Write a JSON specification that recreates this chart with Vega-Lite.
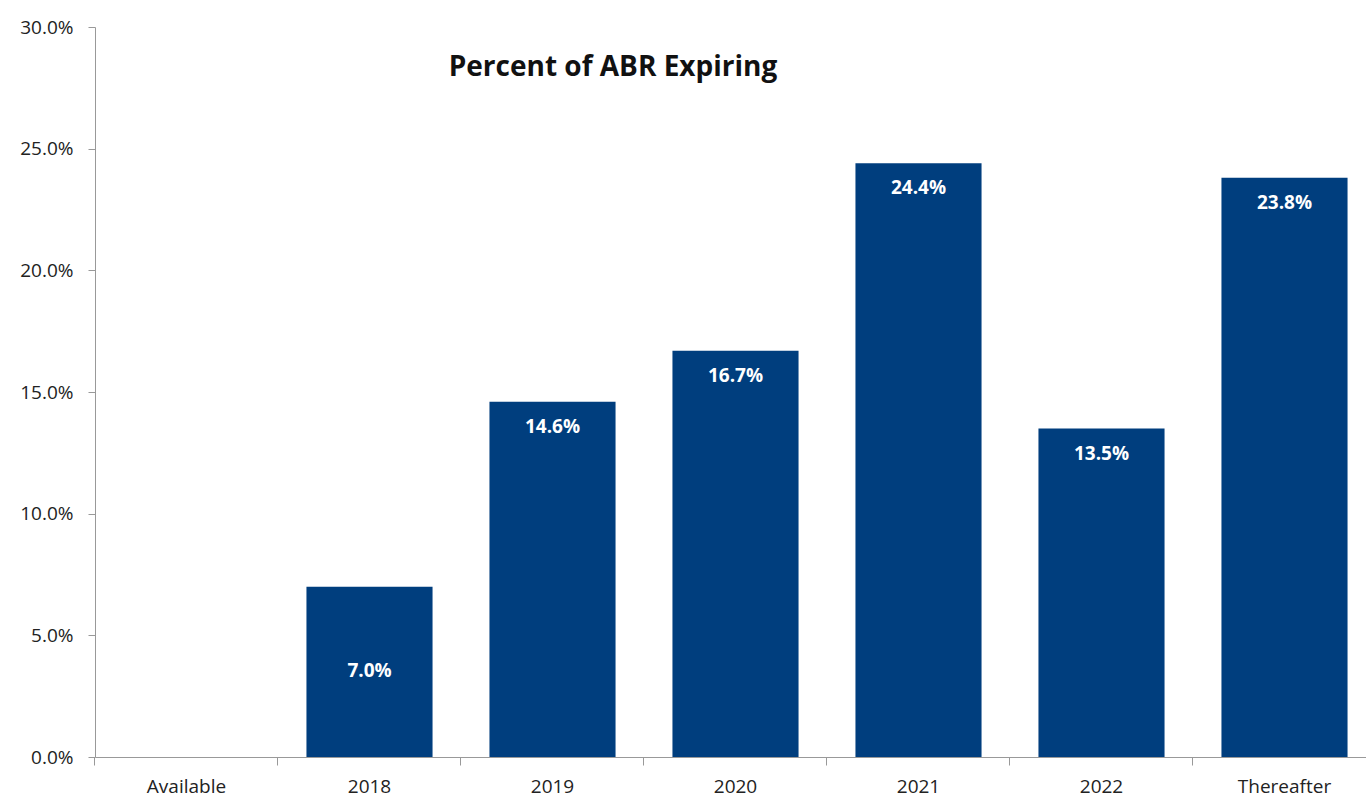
{
  "$schema": "https://vega.github.io/schema/vega-lite/v6.json",
  "autosize": {"type": "none"},
  "width": 1281,
  "height": 730,
  "padding": {"left": 95, "top": 27, "right": -10, "bottom": 41},
  "background": "white",
  "config": {"view": {"stroke": null}, "font": "Open Sans"},
  "title": {
    "text": "Percent of ABR Expiring",
    "anchor": "start",
    "dx": 429,
    "dy": 86,
    "offset": 0,
    "baseline": "alphabetic",
    "font": "Open Sans",
    "fontSize": 28,
    "fontWeight": "bold",
    "color": "#111111"
  },
  "data": {
    "values": [
      {"period": "Available", "pct": null},
      {"period": "2018", "pct": 0.070},
      {"period": "2019", "pct": 0.146},
      {"period": "2020", "pct": 0.167},
      {"period": "2021", "pct": 0.244},
      {"period": "2022", "pct": 0.135},
      {"period": "Thereafter", "pct": 0.238}
    ]
  },
  "encoding": {
    "x": {
      "field": "period",
      "type": "nominal",
      "sort": null,
      "scale": {"domain": ["Available", "2018", "2019", "2020", "2021", "2022", "Thereafter"], "paddingInner": 0.311, "paddingOuter": 0.1555},
      "axis": {
        "title": null,
        "labelAngle": 0,
        "bandPosition": -0.2257,
        "domainColor": "#999999",
        "tickColor": "#999999",
        "tickSize": 8,
        "labelPadding": 12,
        "labelFontSize": 19,
        "labelColor": "#222222",
        "labelFont": "Open Sans"
      }
    },
    "y": {
      "field": "pct",
      "type": "quantitative",
      "scale": {"domain": [0, 0.3], "nice": false},
      "axis": {
        "title": null,
        "format": ".1%",
        "values": [0, 0.05, 0.1, 0.15, 0.2, 0.25, 0.3],
        "grid": false,
        "domainColor": "#999999",
        "tickColor": "#999999",
        "tickSize": 7,
        "labelPadding": 15,
        "labelFontSize": 19,
        "labelColor": "#222222",
        "labelFont": "Open Sans"
      }
    }
  },
  "layer": [
    {"mark": {"type": "bar", "color": "#003E7E"}},
    {
      "transform": [{"filter": "datum.pct != null && datum.period != '2018'"}],
      "mark": {"type": "text", "color": "white", "fontWeight": "bold", "fontSize": 19, "baseline": "middle", "dy": 25, "font": "Open Sans"},
      "encoding": {"text": {"field": "pct", "type": "quantitative", "format": ".1%"}}
    },
    {
      "transform": [{"filter": "datum.period == '2018'"}],
      "mark": {"type": "text", "color": "white", "fontWeight": "bold", "fontSize": 19, "baseline": "middle", "dy": 84, "font": "Open Sans"},
      "encoding": {"text": {"field": "pct", "type": "quantitative", "format": ".1%"}}
    }
  ]
}
